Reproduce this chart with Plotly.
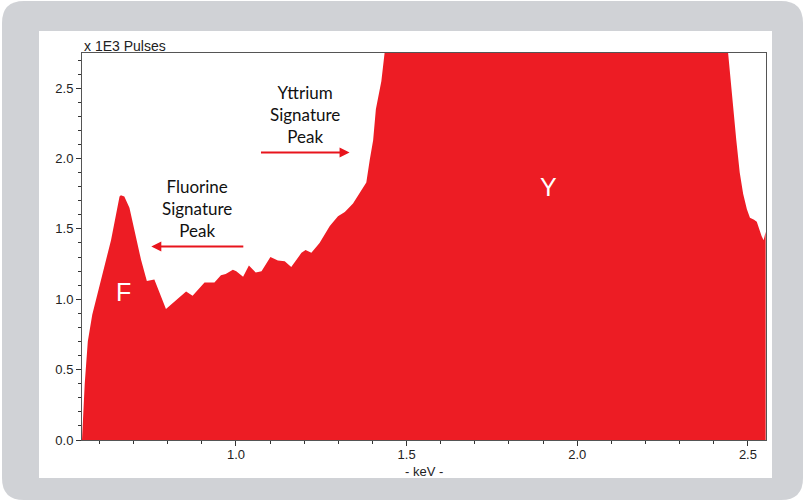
import plotly.graph_objects as go

# ---- data ----
energy_kev = [0.549, 0.557, 0.566, 0.579, 0.634, 0.659, 0.663, 0.673, 0.688, 0.722,
              0.739, 0.761, 0.795, 0.854, 0.873, 0.908, 0.937, 0.956, 0.970, 0.991,
              1.001, 1.021, 1.038, 1.058, 1.075, 1.101, 1.123, 1.143, 1.162, 1.192,
              1.204, 1.221, 1.245, 1.275, 1.299, 1.319, 1.343, 1.382, 1.392, 1.402,
              1.410, 1.426, 1.436, 1.460, 1.500, 1.600, 1.700, 1.800, 1.920, 2.000,
              2.100, 2.200, 2.300, 2.400, 2.442, 2.447, 2.456, 2.466, 2.476, 2.486,
              2.497, 2.506, 2.518, 2.526, 2.540, 2.546, 2.552]
pulses_k = [0.00, 0.40, 0.70, 0.89, 1.42, 1.73, 1.74, 1.73, 1.65, 1.28,
            1.13, 1.14, 0.93, 1.055, 1.025, 1.12, 1.12, 1.17, 1.18, 1.21,
            1.20, 1.16, 1.24, 1.19, 1.20, 1.30, 1.275, 1.27, 1.23, 1.33,
            1.35, 1.33, 1.40, 1.52, 1.59, 1.62, 1.68, 1.83, 1.99, 2.13,
            2.35, 2.55, 2.76, 3.3, 4.6, 6.0, 6.8, 7.6, 8.5, 7.8,
            6.5, 5.5, 4.6, 3.4, 2.75, 2.61, 2.37, 2.13, 1.90, 1.75,
            1.64, 1.58, 1.565, 1.55, 1.45, 1.42, 1.48]

x_tick_vals = [1.0, 1.5, 2.0, 2.5]
x_tick_text = ["1.0", "1.5", "2.0", "2.5"]
y_tick_vals = [0.0, 0.5, 1.0, 1.5, 2.0, 2.5]
y_tick_text = ["0.0", "0.5", "1.0", "1.5", "2.0", "2.5"]

RED = "#ED1C24"
W, H = 805, 502
ML, MR, MT, MB = 82, 39, 53, 62
PW, PH = W - ML - MR, H - MT - MB


def px(x):
    return (x - ML) / PW


def py(y):
    return (H - MB - y) / PH


def rounded_rect(x0, y0, x1, y1, r):
    rx, ry = r / PW, r / PH
    X0, X1, Y0, Y1 = px(x0), px(x1), py(y1), py(y0)  # Y0 bottom, Y1 top
    return (f"M{X0+rx},{Y1} L{X1-rx},{Y1} Q{X1},{Y1} {X1},{Y1-ry} "
            f"L{X1},{Y0+ry} Q{X1},{Y0} {X1-rx},{Y0} L{X0+rx},{Y0} "
            f"Q{X0},{Y0} {X0},{Y0+ry} L{X0},{Y1-ry} Q{X0},{Y1} {X0+rx},{Y1} Z")


fig = go.Figure()
fig.add_trace(go.Scatter(
    x=energy_kev, y=pulses_k, mode="lines", fill="tozeroy",
    line=dict(width=0, color=RED), fillcolor=RED, hoverinfo="skip",
    showlegend=False))

axis_font = dict(family="Liberation Sans, Arial, sans-serif", size=13, color="#222222")

fig.update_layout(
    width=W, height=H,
    margin=dict(l=ML, r=MR, t=MT, b=MB, pad=0),
    paper_bgcolor="white", plot_bgcolor="white",
    showlegend=False,
    xaxis=dict(range=[0.549, 2.553], tickvals=x_tick_vals, ticktext=x_tick_text,
               ticks="outside", ticklen=5, tickcolor="#333", tickwidth=1,
               ticklabelstandoff=-3,
               minor=dict(dtick=0.1, tick0=0, ticks="outside", ticklen=3,
                          tickcolor="#333", showgrid=False),
               showgrid=False, zeroline=False, showline=True, linecolor="#555",
               linewidth=1, mirror=True, tickfont=axis_font),
    yaxis=dict(range=[0, 2.75], tickvals=y_tick_vals, ticktext=y_tick_text,
               ticks="outside", ticklen=5, tickcolor="#333", tickwidth=1,
               minor=dict(dtick=0.1, tick0=0, ticks="outside", ticklen=3,
                          tickcolor="#333", showgrid=False),
               showgrid=False, zeroline=False, showline=True, linecolor="#555",
               linewidth=1, mirror=True, tickfont=axis_font),
)

fig.add_shape(type="path", xref="paper", yref="paper", layer="below",
              path=rounded_rect(2, 1, 803, 500, 22),
              fillcolor="#D0D2D6", line=dict(width=0))
fig.add_shape(type="rect", xref="paper", yref="paper", layer="below",
              x0=px(39), x1=px(772), y0=py(478), y1=py(31),
              fillcolor="white", line=dict(width=0))

ann_font = dict(family="Lato, Calibri, sans-serif", size=17, color="#111111")
fig.add_annotation(x=px(82), y=py(46), xref="paper", yref="paper", xanchor="left",
                   yanchor="middle", text="x 1E3 Pulses", showarrow=False,
                   font=dict(family="Liberation Sans, Arial, sans-serif", size=14, color="#222"))
fig.add_annotation(x=0.5, y=py(471), xref="paper", yref="paper", xanchor="center",
                   yanchor="middle", text="- keV -", showarrow=False, font=axis_font,
                   borderpad=0)
fig.add_annotation(x=1.202, y=2.31, text="Yttrium<br>Signature<br>Peak", showarrow=False,
                   font=ann_font, align="center")
fig.add_annotation(x=0.885, y=1.643, text="Fluorine<br>Signature<br>Peak", showarrow=False,
                   font=ann_font, align="center")
fig.add_annotation(x=1.333, y=2.043, ax=1.069, ay=2.043, axref="x", ayref="y",
                   text="", showarrow=True, arrowhead=2, arrowsize=1, arrowwidth=2,
                   arrowcolor="#E8141C")
fig.add_annotation(x=0.752, y=1.375, ax=1.026, ay=1.375, axref="x", ayref="y",
                   text="", showarrow=True, arrowhead=2, arrowsize=1, arrowwidth=2,
                   arrowcolor="#E8141C")
label_font = dict(family="Liberation Sans, Arial, sans-serif", size=25, color="white")
fig.add_annotation(x=0.670, y=1.05, text="F", showarrow=False, font=label_font)
fig.add_annotation(x=1.916, y=1.795, text="Y", showarrow=False, font=label_font)

fig.write_html("out.html")
